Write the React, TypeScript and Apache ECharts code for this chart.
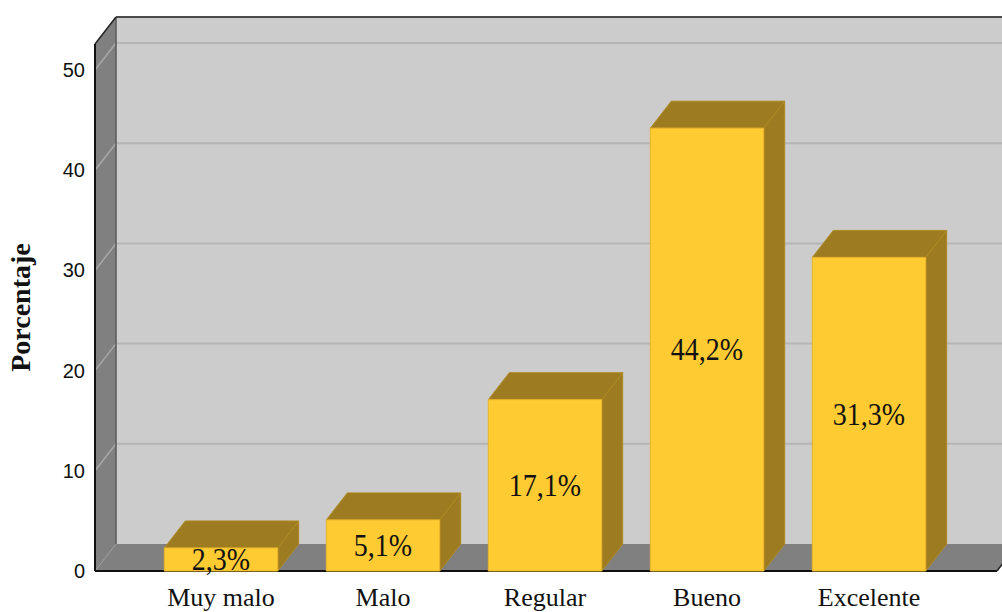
import React, { useEffect, useRef } from "react";
import * as echarts from "echarts";

const categories = ["Muy malo", "Malo", "Regular", "Bueno", "Excelente"];
const percentages = [2.3, 5.1, 17.1, 44.2, 31.3];
const yTicks = [0, 10, 20, 30, 40, 50];
const yMax = 52.6;

const DX = 21;
const DY = 27;

export default function App() {
  const ref = useRef<HTMLDivElement>(null);
  useEffect(() => {
    if (!ref.current) return;
    const chart = echarts.init(ref.current, null, { renderer: "svg" });

    const wallsRender = (params: any, api: any) => {
      const cs = params.coordSys;
      const x0 = cs.x - 45;
      const x1 = cs.x + cs.width + 47;
      const yBase = api.coord([0, 0])[1];
      const yTop = api.coord([0, yMax])[1];
      const children: any[] = [];
      children.push({
        type: "rect",
        shape: { x: x0 + DX, y: yTop - DY, width: x1 - x0 + 40, height: yBase - yTop },
        style: { fill: "#cccccc" },
      });
      yTicks.filter((t) => t > 0).forEach((t) => {
        const y = api.coord([0, t])[1];
        children.push({
          type: "line",
          shape: { x1: x0 + DX, y1: y - DY, x2: x1 + DX + 40, y2: y - DY },
          style: { stroke: "#b5b5b5", lineWidth: 2 },
        });
      });
      children.push({
        type: "polygon",
        shape: { points: [[x0, yBase], [x0, yTop], [x0 + DX, yTop - DY], [x0 + DX, yBase - DY]] },
        style: { fill: "#808080" },
      });
      yTicks.filter((t) => t > 0).forEach((t) => {
        const y = api.coord([0, t])[1];
        children.push({
          type: "line",
          shape: { x1: x0, y1: y, x2: x0 + DX, y2: y - DY },
          style: { stroke: "#a8a8a8", lineWidth: 1.5 },
        });
      });
      children.push({
        type: "polygon",
        shape: { points: [[x0, yBase], [x1, yBase], [x1 + DX, yBase - DY], [x0 + DX, yBase - DY]] },
        style: { fill: "#808080" },
      });
      children.push({
        type: "line",
        shape: { x1: x0 + DX, y1: yTop - DY, x2: x0 + DX, y2: yBase - DY },
        style: { stroke: "#5a5a5a", lineWidth: 1.5 },
      });
      children.push({
        type: "line",
        shape: { x1: x0 + DX, y1: yBase - DY, x2: x0, y2: yBase },
        style: { stroke: "#9a9a9a", lineWidth: 1 },
      });
      children.push({
        type: "line",
        shape: { x1: x0 + DX, y1: yTop - DY, x2: x1 + DX + 40, y2: yTop - DY },
        style: { stroke: "#4a4a4a", lineWidth: 2 },
      });
      children.push({
        type: "line",
        shape: { x1: x0, y1: yBase, x2: x0, y2: yTop },
        style: { stroke: "#111111", lineWidth: 2 },
      });
      children.push({
        type: "line",
        shape: { x1: x0, y1: yTop, x2: x0 + DX, y2: yTop - DY },
        style: { stroke: "#222222", lineWidth: 1.5 },
      });
      children.push({
        type: "line",
        shape: { x1: x0, y1: yBase, x2: x1, y2: yBase },
        style: { stroke: "#111111", lineWidth: 2 },
      });
      children.push({
        type: "line",
        shape: { x1: x1, y1: yBase, x2: x1 + DX, y2: yBase - DY },
        style: { stroke: "#222222", lineWidth: 1.5 },
      });
      return { type: "group", children };
    };

    const barsRender = (params: any, api: any) => {
      const idx = api.value(0);
      const val = api.value(1);
      const top = api.coord([idx, val]);
      const base = api.coord([idx, 0]);
      const w = api.size([1, 0])[0] * 0.7;
      const xl = top[0] - w / 2;
      const xr = top[0] + w / 2;
      const yt = top[1];
      const yb = base[1];
      const dark = "#9d7b21";
      return {
        type: "group",
        children: [
          {
            type: "polygon",
            shape: { points: [[xr, yt], [xr + DX, yt - DY], [xr + DX, yb - DY], [xr, yb]] },
            style: { fill: dark, stroke: "#b08a22", lineWidth: 1 },
          },
          {
            type: "polygon",
            shape: { points: [[xl, yt], [xr, yt], [xr + DX, yt - DY], [xl + DX, yt - DY]] },
            style: { fill: dark, stroke: "#b08a22", lineWidth: 1 },
          },
          {
            type: "rect",
            shape: { x: xl, y: yt, width: w, height: yb - yt },
            style: { fill: "#fecb33", stroke: "#e9b52c", lineWidth: 1 },
          },
          {
            type: "text",
            x: top[0],
            y: (yt + yb) / 2,
            scaleY: 1.12,
            style: {
              text: val.toFixed(1).replace(".", ",") + "%",
              fill: "#111111",
              font: '28px "Liberation Serif"',
              align: "center",
              verticalAlign: "middle",
            },
          },
        ],
      };
    };

    chart.setOption({
      animation: false,
      grid: { left: 140, right: 52, top: 44, bottom: 41, outerBoundsMode: "none", containLabel: false },
      xAxis: {
        type: "category",
        data: categories,
        axisLine: { show: false },
        axisTick: { show: false },
        axisLabel: {
          color: "#111111",
          fontFamily: "Liberation Serif",
          fontSize: 26,
          margin: 13,
        },
      },
      yAxis: {
        type: "value",
        min: 0,
        max: yMax,
        interval: 10,
        offset: 45,
        axisLine: { show: false },
        axisTick: { show: false },
        splitLine: { show: false },
        axisLabel: {
          showMaxLabel: false,
          color: "#111111",
          fontFamily: "Liberation Sans",
          fontSize: 20,
          margin: 10,
        },
        name: "Porcentaje",
        nameLocation: "middle",
        nameRotate: 90,
        nameGap: 61,
        nameTextStyle: {
          color: "#111111",
          fontFamily: "Liberation Serif",
          fontWeight: "bold",
          fontSize: 28,
        },
      },
      series: [
        {
          type: "custom",
          renderItem: wallsRender,
          data: [[0, 0]],
          z: 1,
          silent: true,
        },
        {
          type: "custom",
          renderItem: barsRender,
          data: percentages.map((v, i) => [i, v]),
          z: 2,
        },
      ],
    });

    return () => chart.dispose();
  }, []);

  return (
    <div
      ref={ref}
      style={{ position: "fixed", left: 0, top: 0, width: 1002, height: 612, background: "#ffffff" }}
    />
  );
}
